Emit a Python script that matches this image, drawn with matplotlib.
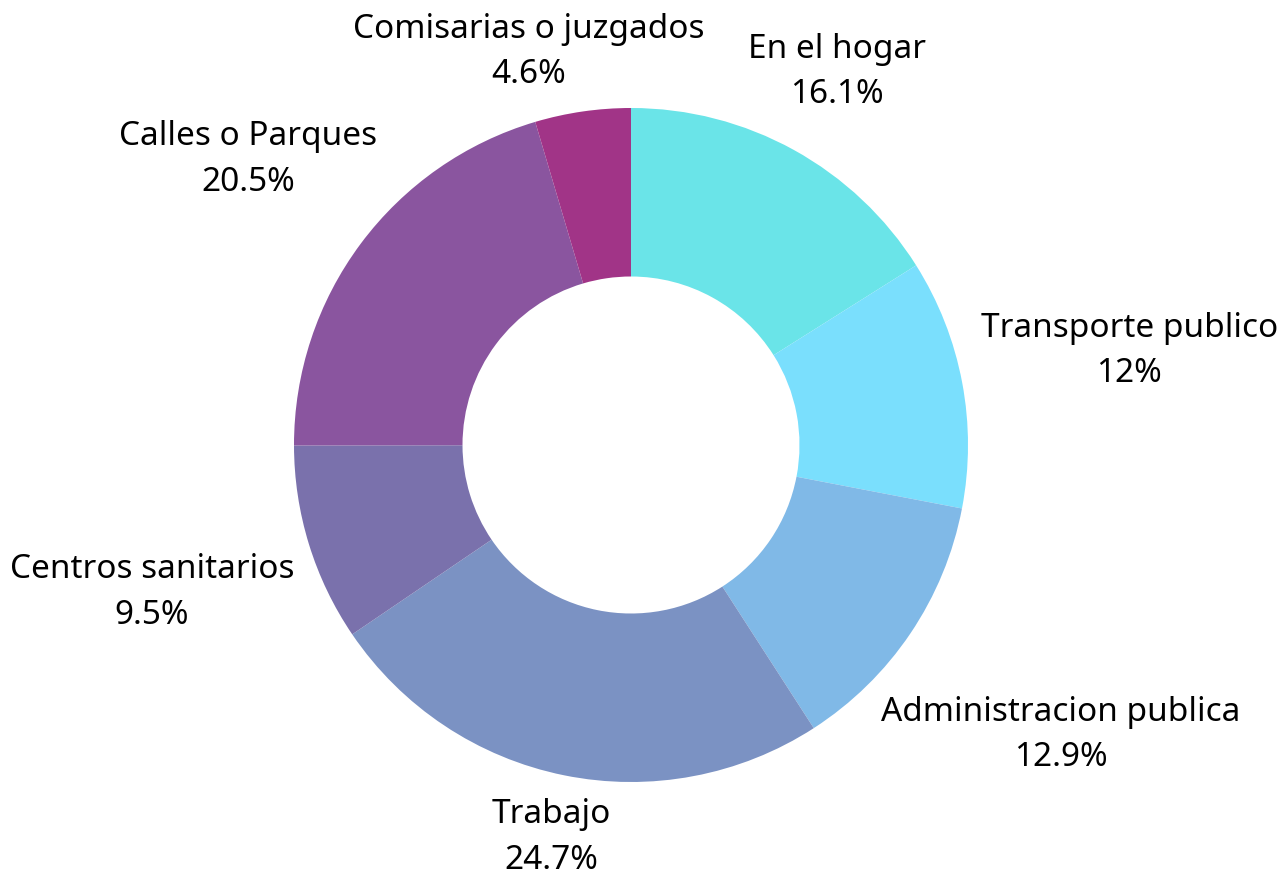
import numpy as np
import matplotlib.pyplot as plt

# data, clockwise from 12 o'clock
labels = ["En el hogar", "Transporte publico", "Administracion publica", "Trabajo",
          "Centros sanitarios", "Calles o Parques", "Comisarias o juzgados"]
values = [16.1, 12, 12.9, 24.7, 9.5, 20.5, 4.6]
pct_text = ["16.1%", "12%", "12.9%", "24.7%", "9.5%", "20.5%", "4.6%"]
colors = ["#6ae4e8", "#7adffd", "#80b9e7", "#7b92c3", "#7a71ac", "#8a559f", "#a13487"]

plt.rcParams['font.family'] = ['Noto Sans', 'DejaVu Sans']

fig = plt.figure(figsize=(12.8, 8.74), dpi=100)
ax = fig.add_axes([0, 0, 1, 1])

# geometry in pixels (center and radius of donut)
cx, cy, R = 631, 445, 337

wedges, _ = ax.pie(values, colors=colors, startangle=90, counterclock=False,
                   radius=1.0, wedgeprops=dict(width=0.5, linewidth=0))
ax.set_xlim(-cx / R, (1280 - cx) / R)
ax.set_ylim(-(874 - cy) / R, cy / R)
ax.set_aspect('equal')
ax.axis('off')

fig.canvas.draw()
renderer = fig.canvas.get_renderer()
inv = ax.transData.inverted()

clear_r = 1.05
texts = []
boxes = []
for w, lab, pt in zip(wedges, labels, pct_text):
    ang = np.deg2rad((w.theta1 + w.theta2) / 2)
    dx, dy = np.cos(ang), np.sin(ang)
    t = ax.text(0, 0, lab + "\n" + pt, ha='center', va='center', fontsize=24,
                linespacing=1.5, color='black')
    bb = t.get_window_extent(renderer)
    p0 = inv.transform((bb.x0, bb.y0))
    p1 = inv.transform((bb.x1, bb.y1))
    hw = (p1[0] - p0[0]) / 2
    hh = (p1[1] - p0[1]) / 2

    def near(d):
        x, y = d * dx, d * dy
        nx = max(abs(x) - hw, 0)
        ny = max(abs(y) - hh, 0)
        return np.hypot(nx, ny)

    lo, hi = 0.0, 5.0
    for _ in range(60):
        mid = (lo + hi) / 2
        if near(mid) < clear_r:
            lo = mid
        else:
            hi = mid
    texts.append(t)
    boxes.append([hi * dx, hi * dy, hw, hh])

# push apart labels that crowd each other (smaller slice moves)
pad = 0.13
n = len(boxes)
for i in range(n):
    j = (i + 1) % n
    a, b = boxes[i], boxes[j]
    if abs(a[1] - b[1]) < a[3] + b[3]:
        gap = abs(a[0] - b[0]) - (a[2] + b[2])
        if gap < pad:
            mover = a if values[i] < values[j] else b
            other = b if mover is a else a
            sign = 1 if mover[0] > other[0] else -1
            mover[0] += sign * (pad - gap)

for t, b in zip(texts, boxes):
    t.set_position((b[0], b[1]))

fig.savefig("out.png", dpi=100)
